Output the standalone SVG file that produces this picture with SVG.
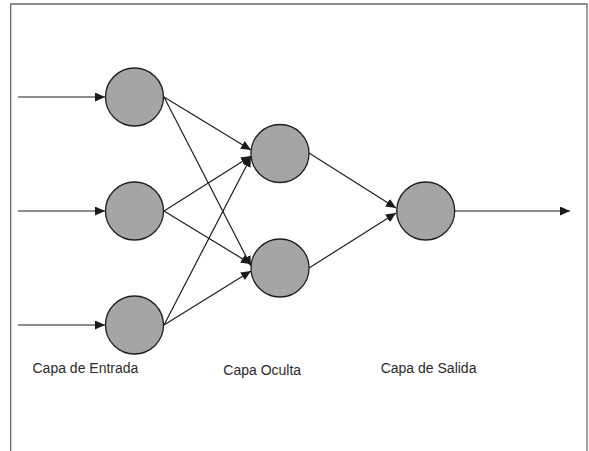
<svg xmlns="http://www.w3.org/2000/svg" width="589" height="451" viewBox="0 0 589 451">
<style>
.node{fill:#a5a5a8;stroke:#1e1e1e;stroke-width:1.3}
.edge{stroke:#1e1e1e;stroke-width:1.2;fill:none;marker-end:url(#ah)}
.lbl{font-family:"Liberation Sans",Arial,sans-serif;font-size:14px;fill:#2a2a2a}
.frame{stroke:#6a6a6a;stroke-width:1.3;fill:none}
</style>
<defs>
<marker id="ah" markerUnits="userSpaceOnUse" markerWidth="11" markerHeight="10" refX="10" refY="4.5" orient="auto">
<path d="M0,0 L10,4.5 L0,9 z" fill="#1a1a1a"/>
</marker>
</defs>
<rect width="589" height="451" fill="#ffffff"/>
<path class="frame" d="M10.7,451 L10.7,4 L587,4 L587,451"/>
<g id="connectors">
<line class="edge" x1="18" y1="97" x2="105" y2="97"/>
<line class="edge" x1="18" y1="211" x2="105" y2="211"/>
<line class="edge" x1="18" y1="325" x2="105" y2="325"/>
<line class="edge" x1="164" y1="97" x2="251" y2="150"/>
<line class="edge" x1="164" y1="97" x2="251" y2="266"/>
<line class="edge" x1="164" y1="211" x2="251" y2="156"/>
<line class="edge" x1="164" y1="211" x2="251" y2="264"/>
<line class="edge" x1="164" y1="325" x2="251" y2="157"/>
<line class="edge" x1="164" y1="325" x2="251" y2="271"/>
<line class="edge" x1="309" y1="153" x2="396" y2="208"/>
<line class="edge" x1="309" y1="268" x2="396" y2="213"/>
<line class="edge" x1="455" y1="211" x2="570" y2="211"/>
</g>
<g id="in1"><circle class="node" cx="134.5" cy="97" r="29"/></g>
<g id="in2"><circle class="node" cx="134.5" cy="211" r="29"/></g>
<g id="in3"><circle class="node" cx="134.5" cy="325" r="29"/></g>
<g id="h1"><circle class="node" cx="280" cy="153.5" r="29"/></g>
<g id="h2"><circle class="node" cx="280" cy="268" r="29"/></g>
<g id="out"><circle class="node" cx="425.7" cy="211" r="29"/></g>
<g id="labels">
<text class="lbl" x="32.5" y="373">Capa de Entrada</text>
<text class="lbl" x="223.3" y="375">Capa Oculta</text>
<text class="lbl" x="380.7" y="373">Capa de Salida</text>
</g>
</svg>
